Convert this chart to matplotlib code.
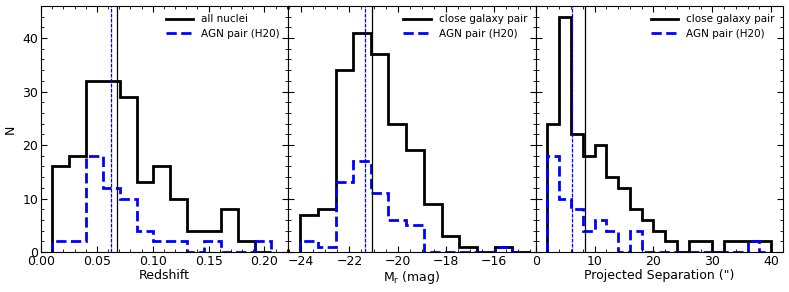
import numpy as np
import matplotlib
matplotlib.use("Agg")
import matplotlib.pyplot as plt
from matplotlib.lines import Line2D
from matplotlib.ticker import MultipleLocator

# ---- data ----
z_edges = [0.010, 0.0251, 0.0402, 0.0553, 0.0704, 0.0855, 0.1006, 0.1157,
           0.1308, 0.1459, 0.1610, 0.1761, 0.1912, 0.2063]
z_all = [16, 18, 32, 32, 29, 13, 16, 10, 4, 4, 8, 2, 0]
z_agn = [2, 2, 18, 12, 10, 4, 2, 2, 0, 2, 0, 0, 2]
z_med_all, z_med_agn = 0.068, 0.063

m_edges = [-24.04, -23.31, -22.57, -21.84, -21.11, -20.38, -19.64, -18.91,
           -18.18, -17.44, -16.71, -15.98, -15.25, -14.51]
m_all = [7, 8, 34, 41, 37, 24, 19, 9, 3, 1, 0, 1, 0]
m_agn = [2, 1, 13, 17, 11, 6, 5, 0, 0, 0, 0, 1, 0]
m_med_all, m_med_agn = -21.06, -21.35

s_edges = [2, 4, 6, 8, 10, 12, 14, 16, 18, 20, 22, 24, 26, 28, 30, 32, 34, 36, 38, 40]
s_all = [24, 44, 22, 18, 20, 14, 12, 8, 6, 4, 2, 0, 2, 2, 0, 2, 2, 2, 2]
s_agn = [18, 10, 8, 4, 6, 4, 0, 4, 0, 0, 0, 0, 0, 0, 0, 0, 0, 2, 0]
s_med_all, s_med_agn = 8.46, 6.09

panels = [
    dict(edges=z_edges, a=z_all, b=z_agn, ma=z_med_all, mb=z_med_agn,
         xlim=(0, 0.2214), xlabel="Redshift", lab="all nuclei",
         major=0.05, minor=0.01),
    dict(edges=m_edges, a=m_all, b=m_agn, ma=m_med_all, mb=m_med_agn,
         xlim=(-24.53, -14.28), xlabel=r"M$_{\rm r}$ (mag)", lab="close galaxy pair",
         major=2, minor=0.5),
    dict(edges=s_edges, a=s_all, b=s_agn, ma=s_med_all, mb=s_med_agn,
         xlim=(0, 42), xlabel='Projected Separation (")', lab="close galaxy pair",
         major=10, minor=2),
]

fig, axes = plt.subplots(1, 3, figsize=(7.89, 2.92), dpi=100, sharey=True)
fig.subplots_adjust(left=41/789, right=783/789, top=1-6/292, bottom=1-252/292, wspace=0)

for i, (ax, p) in enumerate(zip(axes, panels)):
    ax.stairs(p["a"], p["edges"], color="black", lw=2.0, baseline=0)
    ax.stairs(p["b"], p["edges"], color="blue", lw=2.0, ls="--", baseline=0)
    ax.axvline(p["ma"], color="black", lw=0.9)
    ax.axvline(p["mb"], color="blue", lw=0.9, ls=(0, (3, 1)))
    ax.set_xlim(*p["xlim"])
    ax.set_ylim(0, 46)
    ax.xaxis.set_major_locator(MultipleLocator(p["major"]))
    ax.xaxis.set_minor_locator(MultipleLocator(p["minor"]))
    ax.yaxis.set_major_locator(MultipleLocator(10))
    ax.yaxis.set_minor_locator(MultipleLocator(2))
    ax.tick_params(which="both", direction="in", top=True, right=True,
                   labelsize=9, pad=2)
    ax.tick_params(which="major", length=4, width=0.8)
    ax.tick_params(which="minor", length=2, width=0.6)
    ax.set_xlabel(p["xlabel"], fontsize=9, labelpad=1)
    if i == 0:
        ax.xaxis.set_major_formatter(matplotlib.ticker.FormatStrFormatter("%.2f"))
    for s in ax.spines.values():
        s.set_linewidth(0.8)
    handles = [Line2D([], [], color="black", lw=2.0),
               Line2D([], [], color="blue", lw=2.0, ls="--")]
    ax.legend(handles, [p["lab"], "AGN pair (H20)"], loc="upper right",
              frameon=False, fontsize=7.5, handlelength=2.6, labelspacing=0.4,
              borderaxespad=0.4)

axes[0].set_ylabel("N", fontsize=9, labelpad=4)

fig.savefig("out.png", dpi=100)
